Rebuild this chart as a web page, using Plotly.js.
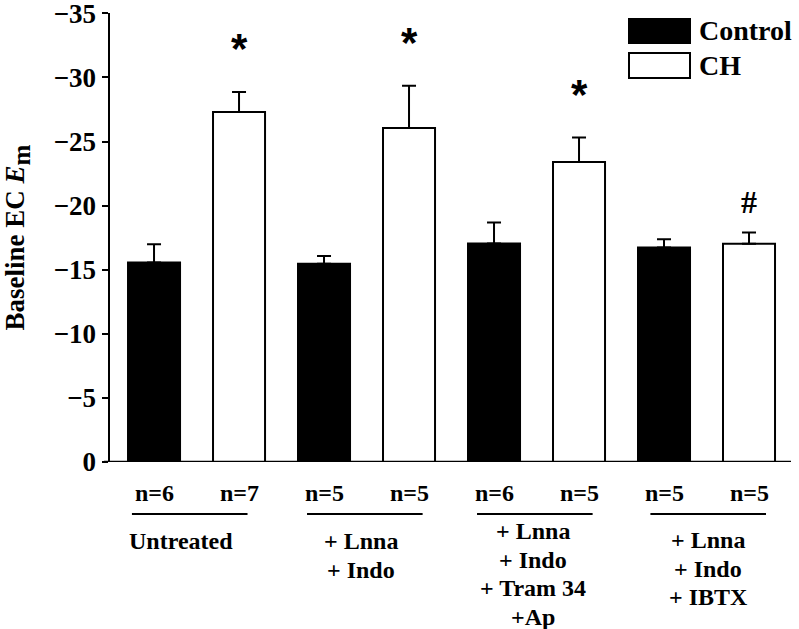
<!DOCTYPE html>
<html>
<head>
<meta charset="utf-8">
<script src="https://cdn.plot.ly/plotly-3.0.1.min.js"></script>
<style>html,body{margin:0;padding:0;background:#fff;}#chart{width:799px;height:629px;}</style>
</head>
<body>
<div id="chart"></div>
<script>
// ---- data ----
var groups = ['Untreated', '+ Lnna + Indo', '+ Lnna + Indo + Tram 34 +Ap', '+ Lnna + Indo + IBTX'];
var groupLabelLines = [
  ['Untreated'],
  ['+ Lnna', '+ Indo'],
  ['+ Lnna', '+ Indo', '+ Tram 34', '+Ap'],
  ['+ Lnna', '+ Indo', '+ IBTX']
];
var controlValues = [-15.56, -15.46, -17.05, -16.73];
var controlErr    = [1.43, 0.62, 1.63, 0.65];
var chValues      = [-27.30, -26.06, -23.41, -17.02];
var chErr         = [1.56, 3.30, 1.90, 0.88];
var controlN = [6, 5, 6, 5];
var chN      = [7, 5, 5, 5];
var chSig    = ['*', '*', '*', '#'];
var yTicks   = [0, -5, -10, -15, -20, -25, -30, -35];

// ---- styling constants ----
var SERIF = 'Liberation Serif, Times New Roman, Times, serif';
var PLOT_TOP = 13, PLOT_BOTTOM = 462, PLOT_H = PLOT_BOTTOM - PLOT_TOP;
function py(pix) { return (PLOT_BOTTOM - pix) / PLOT_H; } // pixel row -> paper y

var zeros = controlValues.map(function(){ return 0; });

var traces = [
  {
    type: 'bar', name: 'Control', x: groups, y: controlValues,
    marker: {color: '#000', line: {color: '#000', width: 2}},
    error_y: {type: 'data', symmetric: false, array: zeros, arrayminus: controlErr,
              color: '#000', thickness: 2, width: 7},
    hoverinfo: 'skip', showlegend: false
  },
  {
    type: 'bar', name: 'CH', x: groups, y: chValues,
    marker: {color: '#fff', line: {color: '#000', width: 2}},
    error_y: {type: 'data', symmetric: false, array: zeros, arrayminus: chErr,
              color: '#000', thickness: 2, width: 7},
    hoverinfo: 'skip', showlegend: false
  }
];

var annotations = [];
var shapes = [];

// significance marks
chValues.forEach(function(v, i) {
  var isStar = chSig[i] === '*';
  annotations.push({
    x: i + 0.25, xref: 'x', y: v - chErr[i] - (isStar ? 3.4 : 2.4), yref: 'y',
    text: '<b>' + chSig[i] + '</b>', showarrow: false, yanchor: 'middle', xanchor: 'center',
    font: {family: isStar ? 'Liberation Sans, Arial, sans-serif' : SERIF, size: isStar ? 42 : 32, color: '#000'}
  });
});

// n labels, underlines, group labels
var underlineShift = [-0.04, -0.01, -0.01, 0.01];
var labelShift = [-0.09, -0.03, -0.02, 0.01];
var labelStart = [541, 541, 531, 540];
groups.forEach(function(g, i) {
  annotations.push({x: i - 0.25, xref: 'x', y: py(493), yref: 'paper', text: '<b>n=' + controlN[i] + '</b>',
    showarrow: false, yanchor: 'middle', font: {family: SERIF, size: 24, color: '#000'}});
  annotations.push({x: i + 0.25, xref: 'x', y: py(493), yref: 'paper', text: '<b>n=' + chN[i] + '</b>',
    showarrow: false, yanchor: 'middle', font: {family: SERIF, size: 24, color: '#000'}});
  shapes.push({type: 'line', xref: 'x', yref: 'paper',
    x0: i - 0.34 + underlineShift[i], x1: i + 0.34 + underlineShift[i], y0: py(514), y1: py(514),
    line: {color: '#000', width: 2}});
  groupLabelLines[i].forEach(function(line, j) {
    annotations.push({x: i + labelShift[i], xref: 'x', y: py(labelStart[i] + j * 28.7), yref: 'paper',
      text: '<b>' + line + '</b>', showarrow: false, yanchor: 'middle',
      font: {family: SERIF, size: 24, color: '#000'}});
  });
});

// x axis line extending under the y ticks
shapes.push({type: 'line', xref: 'paper', yref: 'y', x0: -6 / 681, x1: 1, y0: 0, y1: 0,
  line: {color: '#000', width: 2.5}});

// legend (drawn manually to match large swatches)
var LX0 = (629 - 110) / 681, LX1 = (690 - 110) / 681;
shapes.push({type: 'rect', xref: 'paper', yref: 'paper', x0: LX0, x1: LX1, y0: py(43), y1: py(19),
  fillcolor: '#000', line: {color: '#000', width: 2}});
shapes.push({type: 'rect', xref: 'paper', yref: 'paper', x0: LX0, x1: LX1, y0: py(78), y1: py(53),
  fillcolor: '#fff', line: {color: '#000', width: 2}});
annotations.push({x: (697 - 110) / 681, xref: 'paper', y: py(31), yref: 'paper', text: '<b>' + traces[0].name + '</b>',
  showarrow: false, xanchor: 'left', yanchor: 'middle', font: {family: SERIF, size: 28, color: '#000'}});
annotations.push({x: (697 - 110) / 681, xref: 'paper', y: py(65), yref: 'paper', text: '<b>' + traces[1].name + '</b>',
  showarrow: false, xanchor: 'left', yanchor: 'middle', font: {family: SERIF, size: 28, color: '#000'}});

var layout = {
  width: 799, height: 629,
  margin: {l: 110, r: 8, t: PLOT_TOP, b: 629 - PLOT_BOTTOM, pad: 0},
  paper_bgcolor: '#fff', plot_bgcolor: '#fff',
  barmode: 'group', bargap: 0, bargroupgap: 0.388,
  showlegend: false,
  xaxis: {type: 'category', range: [-0.509, 3.497], showticklabels: false, ticks: '',
    showline: false, showgrid: false, zeroline: false, fixedrange: true},
  yaxis: {range: [0, -35.03], tickvals: yTicks, ticks: 'outside', ticklen: 6, tickwidth: 2, tickcolor: '#000',
    ticklabeloverflow: 'allow',
    showline: true, linecolor: '#000', linewidth: 2.5, showgrid: false, zeroline: false,
    tickfont: {family: SERIF, size: 27, color: '#000', weight: 'bold'},
    title: {text: '<b>Baseline EC <i>E</i><sub><span style="font-size:25px">m</span></sub></b>',
            font: {family: SERIF, size: 27, color: '#000'}, standoff: 26},
    fixedrange: true},
  annotations: annotations,
  shapes: shapes
};

Plotly.newPlot('chart', traces, layout, {staticPlot: true, displayModeBar: false});
</script>
</body>
</html>
